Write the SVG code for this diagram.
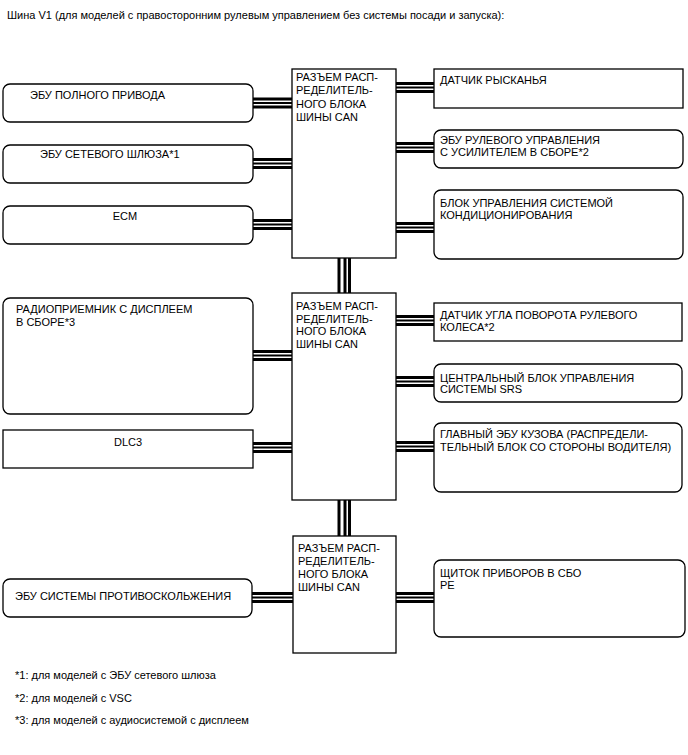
<svg xmlns="http://www.w3.org/2000/svg" width="688" height="755" viewBox="0 0 688 755">
<style>
  text { font-family: "Liberation Sans", Arial, sans-serif; font-size: 11px; fill: #000; }
  .box { fill: #fff; stroke: #000; stroke-width: 1.3; }
  .conn line { stroke: #000; }
  .t { stroke-width: 3; }
  .m { stroke-width: 2; }
</style>
<rect width="688" height="755" fill="#fff"/>
<text x="7" y="19">Шина V1 (для моделей с правосторонним рулевым управлением без системы посади и запуска):</text>

<g id="connectors" class="conn">
  <!-- left to hub1 -->
  <line class="t" x1="253" y1="99" x2="292" y2="99"/><line class="m" x1="253" y1="103" x2="292" y2="103"/><line class="t" x1="253" y1="107" x2="292" y2="107"/>
  <line class="t" x1="253" y1="159.5" x2="292" y2="159.5"/><line class="m" x1="253" y1="163.5" x2="292" y2="163.5"/><line class="t" x1="253" y1="167.5" x2="292" y2="167.5"/>
  <line class="t" x1="253" y1="220.5" x2="292" y2="220.5"/><line class="m" x1="253" y1="224.5" x2="292" y2="224.5"/><line class="t" x1="253" y1="228.5" x2="292" y2="228.5"/>
  <!-- hub1 to right -->
  <line class="t" x1="396" y1="83.5" x2="434" y2="83.5"/><line class="m" x1="396" y1="87.5" x2="434" y2="87.5"/><line class="t" x1="396" y1="91.5" x2="434" y2="91.5"/>
  <line class="t" x1="396" y1="143.5" x2="434" y2="143.5"/><line class="m" x1="396" y1="147.5" x2="434" y2="147.5"/><line class="t" x1="396" y1="151.5" x2="434" y2="151.5"/>
  <line class="t" x1="396" y1="223.5" x2="434" y2="223.5"/><line class="m" x1="396" y1="227.5" x2="434" y2="227.5"/><line class="t" x1="396" y1="231.5" x2="434" y2="231.5"/>
  <!-- left to hub2 -->
  <line class="t" x1="253" y1="351.5" x2="292" y2="351.5"/><line class="m" x1="253" y1="355.5" x2="292" y2="355.5"/><line class="t" x1="253" y1="359.5" x2="292" y2="359.5"/>
  <line class="t" x1="253" y1="443.5" x2="292" y2="443.5"/><line class="m" x1="253" y1="447.5" x2="292" y2="447.5"/><line class="t" x1="253" y1="451.5" x2="292" y2="451.5"/>
  <!-- hub2 to right -->
  <line class="t" x1="396" y1="316.5" x2="434" y2="316.5"/><line class="m" x1="396" y1="320.5" x2="434" y2="320.5"/><line class="t" x1="396" y1="324.5" x2="434" y2="324.5"/>
  <line class="t" x1="396" y1="377.5" x2="434" y2="377.5"/><line class="m" x1="396" y1="381.5" x2="434" y2="381.5"/><line class="t" x1="396" y1="385.5" x2="434" y2="385.5"/>
  <line class="t" x1="396" y1="442.5" x2="434" y2="442.5"/><line class="m" x1="396" y1="446.5" x2="434" y2="446.5"/><line class="t" x1="396" y1="450.5" x2="434" y2="450.5"/>
  <!-- hub3 -->
  <line class="t" x1="252" y1="593.5" x2="293" y2="593.5"/><line class="m" x1="252" y1="597.5" x2="293" y2="597.5"/><line class="t" x1="252" y1="601.5" x2="293" y2="601.5"/>
  <line class="t" x1="396" y1="593.5" x2="434" y2="593.5"/><line class="m" x1="396" y1="597.5" x2="434" y2="597.5"/><line class="t" x1="396" y1="601.5" x2="434" y2="601.5"/>
  <!-- vertical links between hubs -->
  <line class="t" x1="339" y1="258" x2="339" y2="293"/><line class="t" x1="345" y1="258" x2="345" y2="293"/><line class="t" x1="349.5" y1="258" x2="349.5" y2="293"/>
  <line class="t" x1="339" y1="500" x2="339" y2="536"/><line class="t" x1="345" y1="500" x2="345" y2="536"/><line class="t" x1="349.5" y1="500" x2="349.5" y2="536"/>
</g>

<g id="hub1">
  <rect class="box" x="292" y="69" width="104" height="189"/>
  <text x="296" y="81">РАЗЪЕМ РАСП-</text>
  <text x="296" y="94.3">РЕДЕЛИТЕЛЬ-</text>
  <text x="296" y="107.6">НОГО БЛОКА</text>
  <text x="296" y="121">ШИНЫ CAN</text>
</g>
<g id="hub2">
  <rect class="box" x="292" y="293" width="104" height="207"/>
  <text x="296" y="310">РАЗЪЕМ РАСП-</text>
  <text x="296" y="322.5">РЕДЕЛИТЕЛЬ-</text>
  <text x="296" y="335">НОГО БЛОКА</text>
  <text x="296" y="347.5">ШИНЫ CAN</text>
</g>
<g id="hub3">
  <rect class="box" x="293" y="536" width="103" height="117"/>
  <text x="298" y="552">РАЗЪЕМ РАСП-</text>
  <text x="298" y="564.8">РЕДЕЛИТЕЛЬ-</text>
  <text x="298" y="577.6">НОГО БЛОКА</text>
  <text x="298" y="590.5">ШИНЫ CAN</text>
</g>

<g id="ecu4wd">
  <rect class="box" x="3" y="84" width="250" height="38" rx="7"/>
  <text x="30" y="98.5">ЭБУ ПОЛНОГО ПРИВОДА</text>
</g>
<g id="gateway">
  <rect class="box" x="3" y="145" width="250" height="38" rx="7"/>
  <text x="40" y="157.5">ЭБУ СЕТЕВОГО ШЛЮЗА*1</text>
</g>
<g id="ecm">
  <rect class="box" x="3" y="206" width="250" height="38" rx="7"/>
  <text x="125" y="219.5" text-anchor="middle">ECM</text>
</g>
<g id="radio">
  <rect class="box" x="3" y="298" width="250" height="116" rx="7"/>
  <text x="16" y="313">РАДИОПРИЕМНИК С ДИСПЛЕЕМ</text>
  <text x="16" y="325.5">В СБОРЕ*3</text>
</g>
<g id="dlc3">
  <rect class="box" x="3" y="430" width="250" height="38"/>
  <text x="128" y="446" text-anchor="middle">DLC3</text>
</g>
<g id="skid">
  <rect class="box" x="3" y="579" width="249" height="38" rx="7"/>
  <text x="15" y="600">ЭБУ СИСТЕМЫ ПРОТИВОСКОЛЬЖЕНИЯ</text>
</g>

<g id="yaw">
  <rect class="box" x="434" y="69" width="249" height="39"/>
  <text x="440" y="83.5">ДАТЧИК РЫСКАНЬЯ</text>
</g>
<g id="eps">
  <rect class="box" x="434" y="130" width="249" height="38" rx="7"/>
  <text x="440" y="144">ЭБУ РУЛЕВОГО УПРАВЛЕНИЯ</text>
  <text x="440" y="156">С УСИЛИТЕЛЕМ В СБОРЕ*2</text>
</g>
<g id="ac">
  <rect class="box" x="434" y="190" width="249" height="69" rx="7"/>
  <text x="440" y="207">БЛОК УПРАВЛЕНИЯ СИСТЕМОЙ</text>
  <text x="440" y="219">КОНДИЦИОНИРОВАНИЯ</text>
</g>
<g id="steer">
  <rect class="box" x="434" y="303" width="248" height="38"/>
  <text x="440" y="319">ДАТЧИК УГЛА ПОВОРОТА РУЛЕВОГО</text>
  <text x="440" y="331">КОЛЕСА*2</text>
</g>
<g id="srs">
  <rect class="box" x="434" y="364" width="248" height="38" rx="7"/>
  <text x="440" y="381.5">ЦЕНТРАЛЬНЫЙ БЛОК УПРАВЛЕНИЯ</text>
  <text x="440" y="393">СИСТЕМЫ SRS</text>
</g>
<g id="body">
  <rect class="box" x="434" y="423" width="248" height="69" rx="7"/>
  <text x="440" y="438">ГЛАВНЫЙ ЭБУ КУЗОВА (РАСПРЕДЕЛИ-</text>
  <text x="440" y="450.5">ТЕЛЬНЫЙ БЛОК СО СТОРОНЫ ВОДИТЕЛЯ)</text>
</g>
<g id="meter">
  <rect class="box" x="434" y="560" width="251" height="77" rx="7"/>
  <text x="440" y="577">ЩИТОК ПРИБОРОВ В СБО</text>
  <text x="440" y="588.5">РЕ</text>
</g>

<text x="15" y="679">*1: для моделей с ЭБУ сетевого шлюза</text>
<text x="15" y="702">*2: для моделей с VSC</text>
<text x="15" y="724">*3: для моделей с аудиосистемой с дисплеем</text>
</svg>
